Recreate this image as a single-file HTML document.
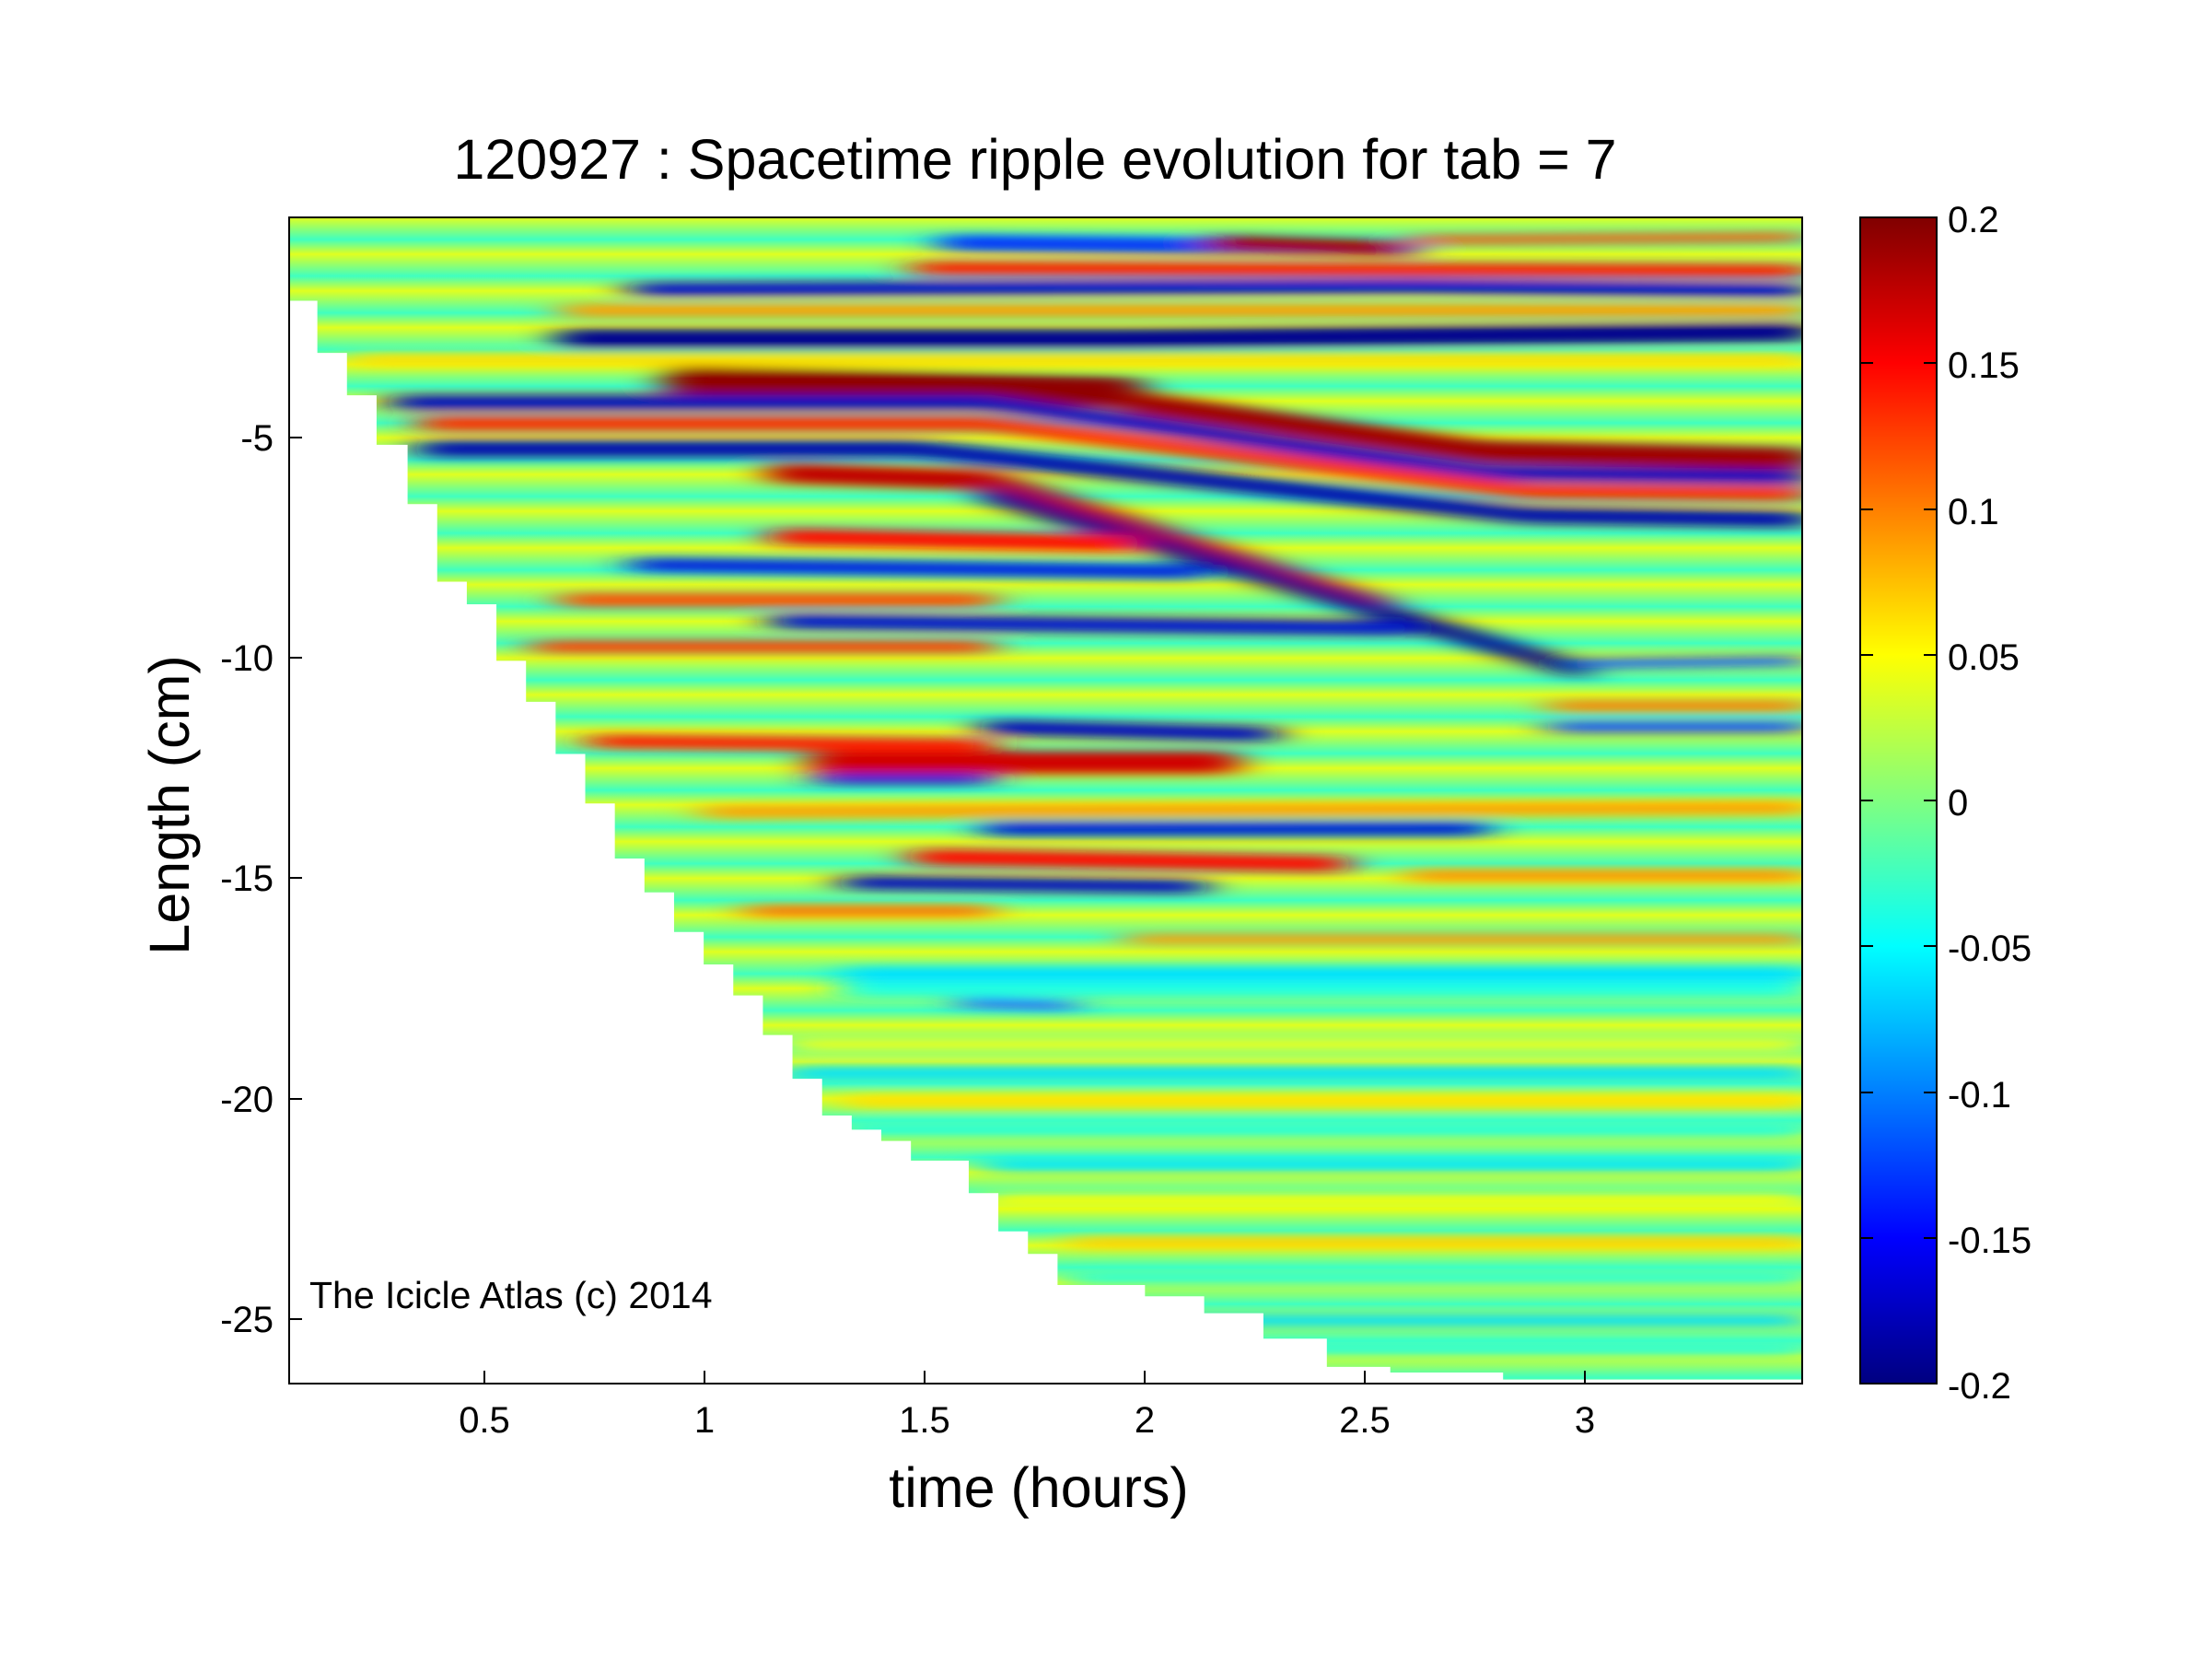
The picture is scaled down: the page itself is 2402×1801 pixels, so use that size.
<!DOCTYPE html>
<html><head><meta charset="utf-8"><style>
html,body{margin:0;padding:0;background:#fff;}
svg{display:block;}
text{font-family:"Liberation Sans",Arial,sans-serif;fill:#000;}
</style></head><body>
<svg width="2402" height="1801" viewBox="0 0 2402 1801" xmlns="http://www.w3.org/2000/svg">
<defs>
<linearGradient id="base" gradientUnits="userSpaceOnUse" x1="0" y1="154" x2="0" y2="180" spreadMethod="repeat">
<stop offset="0" stop-color="#e0ff20"/>
<stop offset="0.3" stop-color="#90ff70"/>
<stop offset="0.6" stop-color="#40ffc0"/>
<stop offset="1" stop-color="#e0ff20"/>
</linearGradient>
<linearGradient id="cb" x1="0" y1="0" x2="0" y2="1">
<stop offset="0" stop-color="#800000"/>
<stop offset="0.125" stop-color="#ff0000"/>
<stop offset="0.375" stop-color="#ffff00"/>
<stop offset="0.5" stop-color="#80ff80"/>
<stop offset="0.625" stop-color="#00ffff"/>
<stop offset="0.875" stop-color="#0000ff"/>
<stop offset="1" stop-color="#000080"/>
</linearGradient>
<filter id="bl" x="-0.1" y="-0.1" width="1.2" height="1.2"><feGaussianBlur stdDeviation="14 3.5"/></filter>
<clipPath id="cp"><rect x="204" y="154" width="1073" height="826"/></clipPath>
</defs>
<g transform="translate(314,236) scale(1.531,1.533) translate(-204,-154)">
<g clip-path="url(#cp)">
<rect x="204" y="154" width="1073" height="826" fill="url(#base)"/>
<g filter="url(#bl)" fill="none" stroke-linecap="round">
<path d="M600 700 L1277 700" stroke="#20ffe0" stroke-width="14"/>
<path d="M560 740 L1277 740" stroke="#e8ff20" stroke-width="10"/>
<path d="M600 800 L1277 800" stroke="#30ffd0" stroke-width="12"/>
<path d="M700 850 L1277 850" stroke="#f0ff10" stroke-width="10"/>
<path d="M760 905 L1277 905" stroke="#30ffd0" stroke-width="10"/>
<path d="M900 955 L1277 955" stroke="#30ffd0" stroke-width="10"/>
<path d="M670 172 L1000 176" stroke="#0030ff" stroke-width="11"/>
<path d="M860 172 L990 176" stroke="#a00000" stroke-width="11"/>
<path d="M1000 170 L1277 168" stroke="#ff6000" stroke-width="7"/>
<path d="M650 190 L1277 192" stroke="#ff2000" stroke-width="10"/>
<path d="M450 205 L1000 203 L1277 206" stroke="#0010d0" stroke-width="10"/>
<path d="M400 220 L1277 220" stroke="#ffa000" stroke-width="10"/>
<path d="M400 240 L800 240 L1277 235" stroke="#000090" stroke-width="14"/>
<path d="M250 255 L1277 255" stroke="#ffe000" stroke-width="9"/>
<path d="M480 270 L800 278" stroke="#900000" stroke-width="22"/>
<path d="M800 285 L1050 320 L1277 325" stroke="#a00000" stroke-width="16"/>
<path d="M280 285 L700 285 L1050 335 L1277 338" stroke="#0010c0" stroke-width="11"/>
<path d="M300 300 L700 300 L1080 348 L1277 350" stroke="#ff3000" stroke-width="11"/>
<path d="M300 318 L650 318 L1080 365 L1277 368" stroke="#0008b0" stroke-width="12"/>
<path d="M550 335 L700 340 L980 430" stroke="#c00000" stroke-width="14"/>
<path d="M700 350 L1120 475" stroke="#000090" stroke-width="12"/>
<path d="M550 380 L800 385" stroke="#ff1000" stroke-width="12"/>
<path d="M450 400 L850 405" stroke="#0020e0" stroke-width="10"/>
<path d="M400 425 L700 425" stroke="#ff5000" stroke-width="10"/>
<path d="M550 440 L1000 445" stroke="#0018d0" stroke-width="11"/>
<path d="M380 458 L700 458" stroke="#ff4000" stroke-width="9"/>
<path d="M1120 470 L1277 468" stroke="#1060ff" stroke-width="7"/>
<path d="M1100 500 L1277 500" stroke="#ff8000" stroke-width="8"/>
<path d="M700 515 L900 520" stroke="#0010c0" stroke-width="11"/>
<path d="M1100 515 L1277 515" stroke="#1050ff" stroke-width="8"/>
<path d="M420 525 L700 528" stroke="#ff2000" stroke-width="10"/>
<path d="M580 540 L870 540" stroke="#d00000" stroke-width="16"/>
<path d="M580 552 L700 552" stroke="#0020e0" stroke-width="8"/>
<path d="M500 575 L1277 572" stroke="#ffa000" stroke-width="9"/>
<path d="M700 587 L1050 587" stroke="#0020d0" stroke-width="10"/>
<path d="M650 607 L950 612" stroke="#ff1000" stroke-width="12"/>
<path d="M1000 620 L1277 620" stroke="#ff9000" stroke-width="8"/>
<path d="M600 625 L850 628" stroke="#0010c0" stroke-width="10"/>
<path d="M530 645 L700 645" stroke="#ff7000" stroke-width="8"/>
<path d="M800 665 L1277 665" stroke="#ffa000" stroke-width="8"/>
<path d="M600 690 L1277 690" stroke="#00e0ff" stroke-width="10"/>
<path d="M680 710 L760 712" stroke="#2060ff" stroke-width="7"/>
<path d="M560 760 L1277 760" stroke="#00e0ff" stroke-width="9"/>
<path d="M600 780 L1277 780" stroke="#ffe000" stroke-width="9"/>
<path d="M700 825 L1277 825" stroke="#00e8ff" stroke-width="9"/>
<path d="M760 880 L1277 880" stroke="#ffd000" stroke-width="8"/>
<path d="M800 935 L1277 935" stroke="#00e0ff" stroke-width="9"/>
</g>
<polygon fill="#fff" points="204,213 224,213 224,250 245,250 245,280 266,280 266,315 288,315 288,357 309,357 309,412 330,412 330,428 351,428 351,468 372,468 372,497 393,497 393,534 414,534 414,569 435,569 435,608 456,608 456,632 477,632 477,660 498,660 498,683 519,683 519,705 540,705 540,733 561,733 561,764 582,764 582,790 603,790 603,800 624,800 624,808 645,808 645,822 686,822 686,845 707,845 707,872 728,872 728,888 749,888 749,910 811,910 811,918 853,918 853,930 895,930 895,948 940,948 940,968 985,968 985,972 1065,972 1065,977 1277,977 1277,981 204,981"/>
</g>
</g>
<rect x="314" y="236" width="1643" height="1266" fill="none" stroke="#000" stroke-width="2"/>
<g stroke="#000" stroke-width="2">
<line x1="526" y1="1502" x2="526" y2="1488"/><line x1="765" y1="1502" x2="765" y2="1488"/><line x1="1004" y1="1502" x2="1004" y2="1488"/><line x1="1243" y1="1502" x2="1243" y2="1488"/><line x1="1482" y1="1502" x2="1482" y2="1488"/><line x1="1721" y1="1502" x2="1721" y2="1488"/>
<line x1="314" y1="475" x2="328" y2="475"/><line x1="314" y1="714" x2="328" y2="714"/><line x1="314" y1="953" x2="328" y2="953"/><line x1="314" y1="1193" x2="328" y2="1193"/><line x1="314" y1="1432" x2="328" y2="1432"/>
</g>
<g font-size="40" text-anchor="middle">
<text x="526" y="1555">0.5</text><text x="765" y="1555">1</text><text x="1004" y="1555">1.5</text><text x="1243" y="1555">2</text><text x="1482" y="1555">2.5</text><text x="1721" y="1555">3</text>
</g>
<g font-size="40" text-anchor="end">
<text x="297" y="489">-5</text><text x="297" y="728">-10</text><text x="297" y="967">-15</text><text x="297" y="1207">-20</text><text x="297" y="1446">-25</text>
</g>
<text x="1124" y="194" font-size="61" text-anchor="middle">120927 : Spacetime ripple evolution for tab = 7</text>
<text x="1128" y="1636" font-size="61" text-anchor="middle">time (hours)</text>
<text transform="translate(205,874) rotate(-90)" font-size="61" text-anchor="middle">Length (cm)</text>
<text x="336" y="1420" font-size="41">The Icicle Atlas (c) 2014</text>
<rect x="2020" y="236" width="83" height="1266" fill="url(#cb)" stroke="#000" stroke-width="2"/>
<g stroke="#000" stroke-width="2">
<line x1="2089" y1="394" x2="2103" y2="394"/><line x1="2089" y1="553" x2="2103" y2="553"/><line x1="2089" y1="711" x2="2103" y2="711"/><line x1="2089" y1="869" x2="2103" y2="869"/><line x1="2089" y1="1027" x2="2103" y2="1027"/><line x1="2089" y1="1186" x2="2103" y2="1186"/><line x1="2089" y1="1344" x2="2103" y2="1344"/>
<line x1="2020" y1="394" x2="2034" y2="394"/><line x1="2020" y1="553" x2="2034" y2="553"/><line x1="2020" y1="711" x2="2034" y2="711"/><line x1="2020" y1="869" x2="2034" y2="869"/><line x1="2020" y1="1027" x2="2034" y2="1027"/><line x1="2020" y1="1186" x2="2034" y2="1186"/><line x1="2020" y1="1344" x2="2034" y2="1344"/>
</g>
<g font-size="40">
<text x="2115" y="252">0.2</text><text x="2115" y="410">0.15</text><text x="2115" y="569">0.1</text><text x="2115" y="727">0.05</text><text x="2115" y="885">0</text><text x="2115" y="1043">-0.05</text><text x="2115" y="1202">-0.1</text><text x="2115" y="1360">-0.15</text><text x="2115" y="1518">-0.2</text>
</g>
</svg>
</body></html>
